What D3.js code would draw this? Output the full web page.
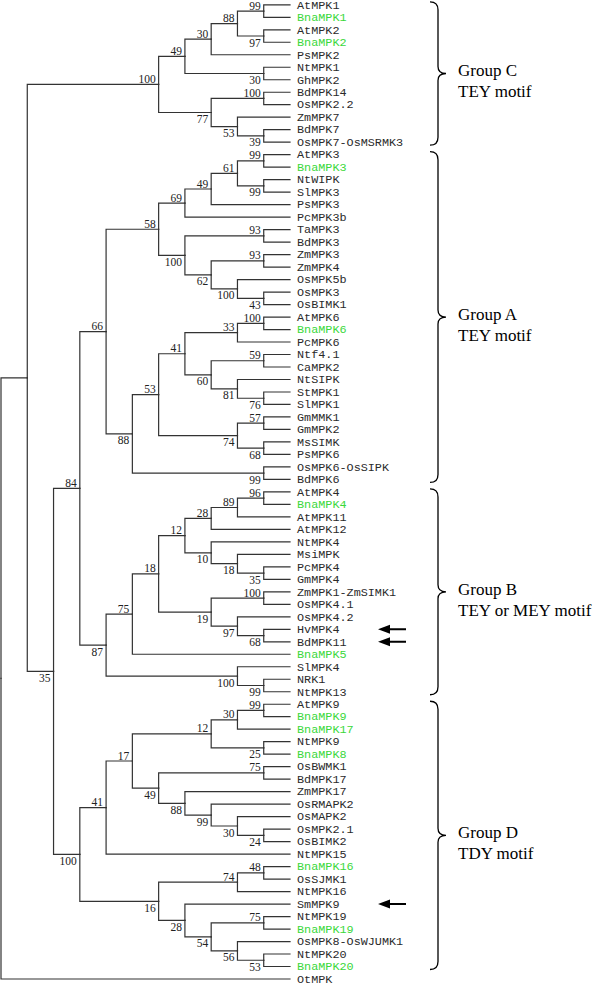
<!DOCTYPE html>
<html><head><meta charset="utf-8">
<script src="https://cdn.jsdelivr.net/npm/d3@7"></script>
<style>body{margin:0;background:#fff}</style>
</head><body><svg id="c" width="600" height="985"></svg>
<script>
// ---- data: clades in Newick form, internal labels = bootstrap values ----
const cladeC = "(((((AtMPK1,BnaMPK1)99,(AtMPK2,BnaMPK2)97)88,PsMPK2)30,(NtMPK1,GhMPK2)30)49,((BdMPK14,OsMPK2.2)100,(ZmMPK7,(BdMPK7,OsMPK7-OsMSRMK3)39)53)77)100";
const cladeA58 = "(((((AtMPK3,BnaMPK3)99,(NtWIPK,SlMPK3)99)61,PsMPK3)49,PcMPK3b)69,((TaMPK3,BdMPK3)93,((ZmMPK3,ZmMPK4)93,(OsMPK5b,(OsMPK3,OsBIMK1)43)100)62)100)58";
const cladeA88 = "(((((AtMPK6,BnaMPK6)100,PcMPK6)33,((Ntf4.1,CaMPK2)59,(NtSIPK,(StMPK1,SlMPK1)76)81)60)41,((GmMMK1,GmMPK2)57,(MsSIMK,PsMPK6)68)74)53,(OsMPK6-OsSIPK,BdMPK6)99)88";
const cladeB = "(((((((AtMPK4,BnaMPK4)96,AtMPK11)89,AtMPK12)28,(NtMPK4,(MsiMPK,(PcMPK4,GmMPK4)35)18)10)12,((ZmMPK1-ZmSIMK1,OsMPK4.1)100,(OsMPK4.2,(HvMPK4,BdMPK11)68)97)19)18,BnaMPK5)75,(SlMPK4,(NRK1,NtMPK13)99)100)87";
const cladeD41 = "(((((AtMPK9,BnaMPK9)99,BnaMPK17)30,(NtMPK9,BnaMPK8)25)12,((OsBWMK1,BdMPK17)75,(ZmMPK17,(OsRMAPK2,(OsMAPK2,(OsMPK2.1,OsBIMK2)24)30)99)88)49)17,NtMPK15)41";
const cladeD16 = "(((BnaMPK16,OsSJMK1)48,NtMPK16)74,(SmMPK9,((NtMPK19,BnaMPK19)75,(OsMPK8-OsWJUMK1,(NtMPK20,BnaMPK20)53)56)54)28)16";
const outgroup = "OtMPK";

const highlighted = ["BnaMPK1","BnaMPK2","BnaMPK3","BnaMPK6","BnaMPK4","BnaMPK5",
  "BnaMPK9","BnaMPK17","BnaMPK8","BnaMPK16","BnaMPK19","BnaMPK20"];
const arrowLeaves = ["HvMPK4","BdMPK11","SmMPK9"];

const groupNames  = ["Group C","Group A","Group B","Group D"];
const groupMotifs = ["TEY motif","TEY motif","TEY or MEY motif","TDY motif"];
const groupFirst  = ["AtMPK1","AtMPK3","AtMPK4","AtMPK9"];
const groupLast   = ["OsMPK7-OsMSRMK3","BdMPK6","NtMPK13","BnaMPK20"];

// ---- assemble the tree ----
const node84 = `((${cladeA58},${cladeA88})66,${cladeB})84`;
const nodeD  = `(${cladeD41},${cladeD16})100`;
const node35 = `(${node84},${nodeD})35`;
const ingroup = `(${cladeC},${node35})`;
const newick = `(${ingroup},${outgroup});`;

function parseNewick(str){
  let i=0;
  function node(){
    const n={};
    if(str[i]==='('){
      i++; n.children=[node()];
      while(str[i]===','){i++; n.children.push(node());}
      i++;
    }
    let name='';
    while(i<str.length && !',();'.includes(str[i])) name+=str[i++];
    n.name=name;
    return n;
  }
  return node();
}
const root = d3.hierarchy(parseNewick(newick));
d3.cluster().nodeSize([1,1]).separation(()=>1)(root);
const leaves = root.leaves();

const x = d3.scaleLinear().domain([0, root.height]).range([1, 290]);
const y = d3.scaleLinear().domain([leaves[0].x, leaves[leaves.length-1].x]).range([4.8, 979]);

const svg = d3.select("#c");
const g = svg.append("g");

// branches
g.selectAll("path.br").data(root.links()).join("path")
  .attr("class","br")
  .attr("d", d => `M${x(d.source.y)},${y(d.source.x)}V${y(d.target.x)}H${x(d.target.y)}`)
  .attr("fill","none").attr("stroke","#333").attr("stroke-width",1.2)
  .attr("stroke-linecap","square");

// bootstrap labels
const internals = root.descendants().filter(d => d.parent && d.children && d.data.name);
g.selectAll("text.bs").data(internals).join("text")
  .attr("class","bs")
  .attr("x", d => x(d.y) - 3)
  .attr("y", d => d.parent.children.indexOf(d) === 0 ? y(d.x) - 1.5 : y(d.x) + 10.5)
  .attr("text-anchor","end")
  .attr("font-family","'Liberation Serif', serif").attr("font-size",11.5)
  .attr("fill","#222")
  .text(d => d.data.name);

// leaf labels
g.selectAll("text.leaf").data(leaves).join("text")
  .attr("class","leaf")
  .attr("x", d => x(d.y) + 7)
  .attr("y", d => y(d.x))
  .attr("dy","0.32em")
  .attr("font-family","'Liberation Mono', monospace").attr("font-size",11.8)
  .attr("fill", d => highlighted.includes(d.data.name) ? "#3ad83a" : "#2a2a2a")
  .text(d => d.data.name);

// arrows
const leafY = name => y(leaves.find(l => l.data.name === name).x);
arrowLeaves.forEach(n => {
  const yy = leafY(n);
  g.append("path")
    .attr("d", `M378,${yy}L390,${yy-4.5}L390,${yy-1}L406,${yy-1}L406,${yy+1}L390,${yy+1}L390,${yy+4.5}Z`)
    .attr("fill","#000");
});

// braces and group labels
groupNames.forEach((name,i) => {
  const y0 = leafY(groupFirst[i]) - 3;
  const y1 = leafY(groupLast[i]) + 3;
  const ym = (y0 + y1) / 2;
  const x0 = 430, x1 = 438, x2 = 446;
  g.append("path")
    .attr("d", `M${x0},${y0}Q${x1},${y0} ${x1},${y0+8}V${ym-7}Q${x1},${ym} ${x2},${ym}Q${x1},${ym} ${x1},${ym+7}V${y1-8}Q${x1},${y1} ${x0},${y1}`)
    .attr("fill","none").attr("stroke","#000").attr("stroke-width",1.3);
  g.append("text").attr("x",458).attr("y",ym + 3)
    .attr("font-family","'Liberation Serif', serif").attr("font-size",17).attr("fill","#000")
    .text(name);
  g.append("text").attr("x",458).attr("y",ym + 24)
    .attr("font-family","'Liberation Serif', serif").attr("font-size",17).attr("fill","#000")
    .text(groupMotifs[i]);
});
</script>
</body></html>
